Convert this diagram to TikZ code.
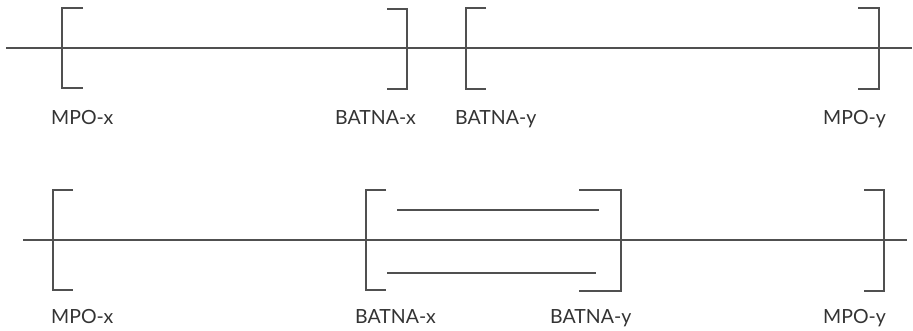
\documentclass[tikz,border=0pt]{standalone}
\usepackage{fontspec}
\setmainfont{Lato}
\definecolor{ink}{HTML}{333333}
\definecolor{rule}{HTML}{505050}
\begin{document}
\begin{tikzpicture}[x=1pt,y=-1pt,
  lbl/.style={anchor=base west,inner sep=0pt,text=ink,font=\fontsize{19.5}{22}\selectfont},
  axis/.style={draw=rule,line width=1.1pt},
  brk/.style={draw=rule,line width=1.1pt}]
\useasboundingbox (0,0) rectangle (913,331);
% top row
\coordinate (t1) at (6,48); \coordinate (t2) at (912,48);
\draw[axis] (t1) -- (t2);
\draw[brk] (83,8) -- (62,8) -- (62,88) -- (83,88);
\draw[brk] (387,9) -- (407,9) -- (407,89) -- (387,89);
\draw[brk] (486,8) -- (466,8) -- (466,89) -- (486,89);
\draw[brk] (858,8) -- (879,8) -- (879,89) -- (858,89);
\node[lbl] (mx1) at (51,125) {MPO-x};
\node[lbl] (bx1) at (335,125) {BATNA-x};
\node[lbl] (by1) at (455,125) {BATNA-y};
\node[lbl] (my1) at (823,125) {MPO-y};
% bottom row
\coordinate (b1) at (23,240); \coordinate (b2) at (907,240);
\draw[axis] (b1) -- (b2);
\draw[brk] (73,190) -- (53,190) -- (53,290) -- (73,290);
\draw[brk] (386,190) -- (366,190) -- (366,290) -- (386,290);
\draw[brk] (579,190) -- (621,190) -- (621,291) -- (579,291);
\draw[brk] (864,190) -- (884,190) -- (884,291) -- (864,291);
\coordinate (u1) at (397,210); \coordinate (u2) at (599,210);
\coordinate (l1) at (387,273); \coordinate (l2) at (596,273);
\draw[axis] (u1) -- (u2);
\draw[axis] (l1) -- (l2);
\node[lbl] (mx2) at (51,323) {MPO-x};
\node[lbl] (bx2) at (355,323) {BATNA-x};
\node[lbl] (by2) at (550,323) {BATNA-y};
\node[lbl] (my2) at (823,323) {MPO-y};
\end{tikzpicture}
\end{document}
